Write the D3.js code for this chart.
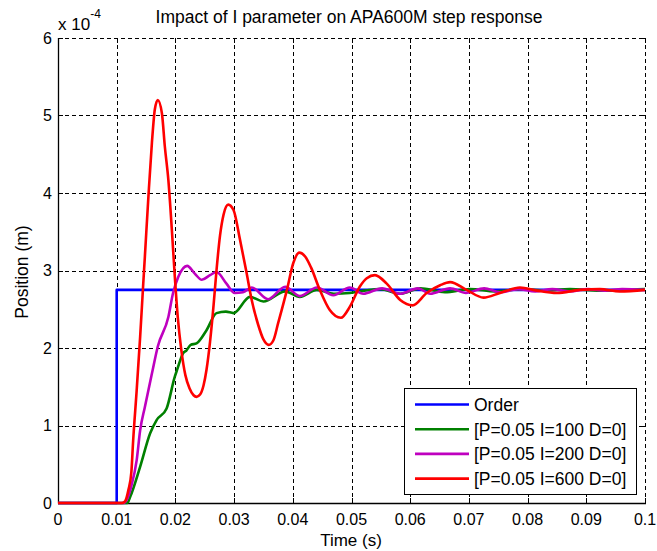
<!DOCTYPE html>
<html>
<head>
<meta charset="utf-8">
<script src="https://cdn.jsdelivr.net/npm/d3@7"></script>
<style>
html,body{margin:0;padding:0;background:#fff;}
svg text{font-family:"Liberation Sans",Arial,sans-serif;fill:#000;}
</style>
</head>
<body>
<svg id="chart" width="657" height="551"></svg>
<script>
// ---- Data (position values in units of 1e-4 m) ----
const xTicks = [0,0.01,0.02,0.03,0.04,0.05,0.06,0.07,0.08,0.09,0.1];
const xTickLabels = ["0","0.01","0.02","0.03","0.04","0.05","0.06","0.07","0.08","0.09","0.1"];
const yTicks = [0,1,2,3,4,5,6];
const yTickLabels = ["0","1","2","3","4","5","6"];
const seriesNames = ["Order","[P=0.05 I=100 D=0]","[P=0.05 I=200 D=0]","[P=0.05 I=600 D=0]"];
const seriesColors = ["#0000ff","#008000","#bf00bf","#ff0000"];

const tOrder = [0,0.01,0.01,0.1];
const yOrder = [0,0,2.75,2.75];

const tI100 = [0,0.0118,0.0123,0.0140,0.0157,0.0168,0.0185,0.0199,0.0203,0.0213,0.0219,0.0226,0.0236,0.0253,0.0270,0.0286,0.0299,0.0327,0.0350,0.0387,0.0412,0.0441,0.0470,0.0497,0.0522,0.0549,0.0583,0.0617,0.0659,0.0702,0.0745,0.0787,0.0830,0.0872,0.0923,0.1];
const yI100 = [0,0,0.08,0.47,0.90,1.07,1.22,1.63,1.72,1.93,1.97,2.04,2.06,2.23,2.45,2.47,2.45,2.66,2.60,2.73,2.66,2.75,2.70,2.71,2.74,2.76,2.70,2.77,2.72,2.76,2.73,2.76,2.74,2.76,2.74,2.76];

const tI200 = [0,0.0112,0.0117,0.0125,0.0134,0.0140,0.0148,0.0160,0.0170,0.0188,0.0196,0.0205,0.0220,0.0233,0.0245,0.0259,0.0270,0.0287,0.0301,0.0315,0.0330,0.0358,0.0387,0.0412,0.0441,0.0469,0.0497,0.0520,0.0552,0.0583,0.0613,0.0634,0.0668,0.0695,0.0726,0.0753,0.0784,0.0813,0.0842,0.0872,0.0903,0.0932,0.0961,0.1];
const yI200 = [0,0,0.04,0.22,0.55,0.94,1.24,1.67,2.02,2.40,2.71,2.92,3.06,2.96,2.88,2.94,2.98,2.83,2.71,2.72,2.78,2.63,2.79,2.67,2.78,2.68,2.78,2.70,2.77,2.70,2.77,2.70,2.77,2.71,2.77,2.72,2.76,2.73,2.76,2.73,2.76,2.74,2.76,2.75];

const tI600 = [0,0.0108,0.0114,0.0120,0.0125,0.0128,0.0134,0.0140,0.0145,0.0148,0.0154,0.0160,0.0165,0.0170,0.0177,0.0182,0.0188,0.0194,0.0199,0.0204,0.0210,0.0217,0.0224,0.0231,0.0236,0.0242,0.0248,0.0253,0.0259,0.0265,0.0270,0.0276,0.0282,0.0290,0.0299,0.0310,0.0321,0.0330,0.0341,0.0350,0.0359,0.0367,0.0375,0.0390,0.0401,0.0411,0.0421,0.0431,0.0446,0.0463,0.0482,0.0497,0.0514,0.0526,0.0540,0.0560,0.0583,0.0604,0.0628,0.0651,0.0668,0.0696,0.0725,0.0753,0.0787,0.0816,0.0850,0.0889,0.0923,0.0957,0.1];
const yI600 = [0,0,0.02,0.17,0.40,0.80,1.45,2.15,2.80,3.18,3.95,4.65,5.08,5.20,5.03,4.60,4.17,3.52,2.92,2.40,1.98,1.65,1.48,1.39,1.37,1.40,1.52,1.72,2.08,2.55,3.00,3.45,3.72,3.85,3.78,3.40,2.98,2.62,2.30,2.11,2.04,2.10,2.32,2.75,3.10,3.23,3.18,3.04,2.75,2.49,2.39,2.53,2.79,2.90,2.94,2.83,2.62,2.55,2.71,2.81,2.85,2.75,2.65,2.71,2.78,2.74,2.71,2.75,2.76,2.73,2.75];

// ---- Layout ----
const L = 58, R = 645, T = 38, B = 503;
const svg = d3.select("#chart");
const x = d3.scaleLinear().domain([0,0.1]).range([L,R]);
const y = d3.scaleLinear().domain([0,6]).range([B,T]);

// grid (dashed)
const dash = "4,3";
svg.append("g").selectAll("line").data(xTicks.slice(1)).join("line")
  .attr("x1",d=>x(d)+0.5).attr("x2",d=>x(d)+0.5).attr("y1",T).attr("y2",B)
  .attr("stroke","#000").attr("stroke-width",1).attr("stroke-dasharray",dash).attr("shape-rendering","crispEdges");
svg.append("g").selectAll("line").data(yTicks.slice(1)).join("line")
  .attr("y1",d=>Math.round(y(d))+0.5).attr("y2",d=>Math.round(y(d))+0.5).attr("x1",L).attr("x2",R)
  .attr("stroke","#000").attr("stroke-width",1).attr("stroke-dasharray",dash).attr("shape-rendering","crispEdges");

// tick marks on all four sides (inward)
const tl = 5;
const tg = svg.append("g").attr("stroke","#000").attr("stroke-width",1).attr("shape-rendering","crispEdges");
xTicks.forEach(d=>{
  tg.append("line").attr("x1",x(d)+0.5).attr("x2",x(d)+0.5).attr("y1",B).attr("y2",B-tl);
  tg.append("line").attr("x1",x(d)+0.5).attr("x2",x(d)+0.5).attr("y1",T).attr("y2",T+tl);
});
yTicks.forEach(d=>{
  const yy = Math.round(y(d))+0.5;
  tg.append("line").attr("x1",L).attr("x2",L+tl).attr("y1",yy).attr("y2",yy);
  tg.append("line").attr("x1",R).attr("x2",R-tl).attr("y1",yy).attr("y2",yy);
});

// left & bottom solid axis lines
svg.append("line").attr("x1",L+0.5).attr("x2",L+0.5).attr("y1",T).attr("y2",B+0.5).attr("stroke","#000").attr("stroke-width",1.3);
svg.append("line").attr("x1",L).attr("x2",R+1).attr("y1",B+0.5).attr("y2",B+0.5).attr("stroke","#000").attr("stroke-width",1.3);

// tick labels
svg.append("g").selectAll("text").data(xTicks).join("text")
  .attr("x",d=>x(d)).attr("y",525).attr("text-anchor","middle").attr("font-size","16px")
  .text((d,i)=>xTickLabels[i]);
svg.append("g").selectAll("text").data(yTicks).join("text")
  .attr("x",52).attr("y",d=>y(d)).attr("dy","0.36em").attr("text-anchor","end").attr("font-size","16px")
  .text((d,i)=>yTickLabels[i]);

// exponent label
const ex = svg.append("text").attr("x",58).attr("y",30).attr("font-size","17px");
ex.append("tspan").text("x 10");
ex.append("tspan").attr("font-size","12px").attr("dy","-12").text("-4");

// title & axis labels
svg.append("text").attr("x",349).attr("y",23).attr("text-anchor","middle").attr("font-size","17.5px")
  .text("Impact of I parameter on APA600M step response");
svg.append("text").attr("x",351).attr("y",546).attr("text-anchor","middle").attr("font-size","17px").text("Time (s)");
svg.append("text").attr("transform","translate(28,272) rotate(-90)").attr("text-anchor","middle").attr("font-size","17.5px").text("Position (m)");

// series
const stepLine = d3.line().x(d=>x(d[0])).y(d=>y(d[1]));
const smoothLine = d3.line().x(d=>x(d[0])).y(d=>y(d[1])).curve(d3.curveMonotoneX);
const series = [
  d3.zip(tOrder,yOrder),
  d3.zip(tI100,yI100),
  d3.zip(tI200,yI200),
  d3.zip(tI600,yI600)
];
svg.append("defs").append("clipPath").attr("id","clip").append("rect").attr("x",L).attr("y",T-2).attr("width",R-L+2).attr("height",B-T+4);
const sg = svg.append("g").attr("clip-path","url(#clip)");
series.forEach((s,i)=>{
  sg.append("path").datum(s).attr("d",i===0?stepLine:smoothLine).attr("fill","none")
    .attr("stroke",seriesColors[i]).attr("stroke-width",2.6).attr("stroke-linejoin","round");
});

// legend
const lg = svg.append("g");
lg.append("rect").attr("x",404.5).attr("y",388.5).attr("width",232).attr("height",106)
  .attr("fill","#fff").attr("stroke","#000").attr("stroke-width",1);
seriesNames.forEach((n,i)=>{
  const yy = 404.5 + i*24.7;
  lg.append("line").attr("x1",415).attr("x2",469).attr("y1",yy).attr("y2",yy)
    .attr("stroke",seriesColors[i]).attr("stroke-width",2.6);
  lg.append("text").attr("x",474).attr("y",yy).attr("dy","0.36em").attr("font-size","17.5px").text(n);
});
</script>
</body>
</html>
